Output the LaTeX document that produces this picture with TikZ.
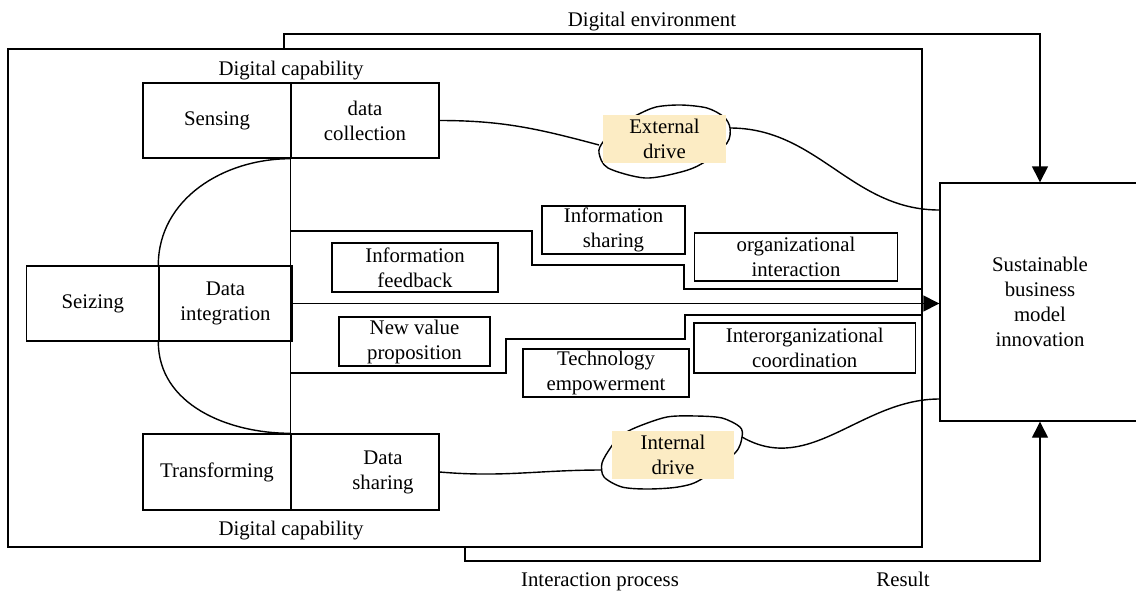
\documentclass[tikz,border=0pt]{standalone}
\usepackage{fontspec}
\setmainfont{Liberation Serif}
\usetikzlibrary{arrows.meta,calc}
\definecolor{drivefill}{RGB}{252,236,196}
\tikzset{
  blk/.style={draw, minimum width=74pt, minimum height=37.5pt, align=center, inner sep=0pt},
  lbl/.style={draw, align=center, inner sep=0pt, minimum height=24pt},
  drv/.style={fill=drivefill, align=center, minimum width=61.5pt, minimum height=24pt, inner sep=0pt},
  arr/.style={-{Triangle[length=8pt,width=8pt]}},
}

\begin{document}
\begin{tikzpicture}[x=0.5pt,y=-0.5pt,line width=0.7pt,font=\fontsize{10.4}{12.5}\selectfont]
      \useasboundingbox (0,0) rectangle (1136,590);

      \node[draw, minimum width=457pt, minimum height=249pt] (frame) at (465,298) {};
      \node[draw, minimum width=100pt, minimum height=119pt, align=center] (sbmi) at (1040,302)
        {Sustainable\\business\\model\\innovation};

      % capability blocks
      \node[blk] (sensing) at (217,120.5) {Sensing};
      \node[blk] (collect) at (365,120.5) {data\\collection};
      \node[blk, minimum width=66.25pt] (seizing) at (92.75,303.5) {Seizing};
      \node[blk, minimum width=66.5pt] (integr) at (225.5,303.5) {Data\\integration};
      \node[blk, minimum height=38pt] (transf) at (217,472) {Transforming};
      \node[blk, minimum height=38pt] (share) at (365,472) {\hspace*{18pt}Data\\\hspace*{18pt}sharing};

      % titles, set on their baselines
      \node[anchor=base] (capT) at (291,75) {Digital capability};
      \node[anchor=base] (capB) at (291,535) {Digital capability};
      \node[anchor=base] (env) at (652,26) {Digital environment};
      \node[anchor=base] (proc) at (600,586) {Interaction process};
      \node[anchor=base] (res) at (903,586) {Result};

      % interaction labels
      \node[lbl, minimum width=83pt, minimum height=24.5pt] (fback) at (415,267.5) {Information\\feedback};
      \node[lbl, minimum width=71.5pt] (ishare) at (613.5,230) {Information\\sharing};
      \node[lbl, minimum width=101.5pt] (orgint) at (796,257) {organizational\\interaction};
      \node[lbl, minimum width=75.5pt, minimum height=24.5pt] (newval) at (414.5,341.5) {New value\\proposition};
      \node[lbl, minimum width=83pt] (techemp) at (606,373) {Technology\\empowerment};
      \node[lbl, minimum width=110.75pt, minimum height=25pt] (coord) at (804.75,348) {Interorganizational\\coordination};

      % loops round the drives
      \draw plot[smooth cycle] coordinates {(603,142) (599,153) (608,168) (645,178) (681,172) (703,163)
        (727,143) (730,128) (724,117) (707,108) (681,105) (656,107) (637,115) (620,125)};
      \draw plot[smooth cycle] coordinates {(611,447) (602,463) (604,477) (622,487) (648,489) (678,487)
        (700,480) (735,453) (742,437) (740,427) (722,418) (696,416) (667,417) (637,427) (620,436)};
      \node[drv] (ext) at (664.5,139) {External\\drive};
      \node[drv, minimum width=61.25pt] (int) at (673,455) {Internal\\drive};

      \coordinate (ext-in) at (599,145);
      \coordinate (ext-out) at (730,128);
      \coordinate (int-in) at (602,470);
      \coordinate (int-out) at (742,437);
      \coordinate (fb) at (291,231);
      \coordinate (vp) at (291,373);
      \coordinate (envtop) at (284,49);
      \coordinate (envbend) at (284,34);
      \coordinate (procbend) at (465,561);

      \draw (collect.south west) -- (share.north west);
      \draw (collect.south west) to[out=180,in=90] (integr.north west);
      \draw (integr.south west) to[out=270,in=180] (share.north west);

      \draw (fb) -| (532,265) -| (684,289) -- (frame.east |- 0,289);
      \draw (vp) -| (506,339) -| (685,315) -- (frame.east |- 0,315);
      \draw[arr] (integr.east) -- (sbmi.west |- integr.east);

      \draw (collect.east) to[out=0,in=165] (ext-in);
      \draw (ext-out) to[out=0,in=180] (sbmi.west |- 0,210);
      \draw (share.east) to[out=-5,in=180] (int-in);
      \draw (int-out) to[out=-30,in=180] (sbmi.west |- 0,399);

      \draw[arr] (envtop) -- (envbend) -| (sbmi.north);
      \draw[arr] (frame.south) -- (procbend) -| (sbmi.south);
\end{tikzpicture}
\end{document}
